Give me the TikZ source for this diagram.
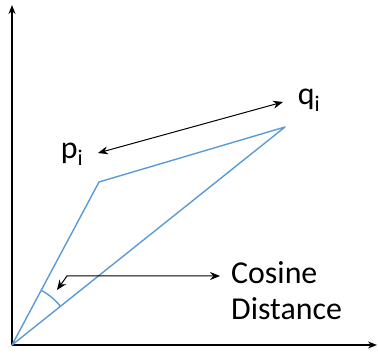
\documentclass[tikz,border=0pt]{standalone}
\usepackage{fontspec}
\setmainfont{Carlito}
\usetikzlibrary{arrows.meta}
\definecolor{vecblue}{RGB}{91,155,213}
\begin{document}
\begin{tikzpicture}[x=1bp,y=1bp]
	\tikzset{axis/.style={black, line width=1.4bp, -{Stealth[length=9bp,width=7bp]}},
		vec/.style={vecblue, line width=1.4bp},
		pointer/.style={black, line width=1bp, {Stealth[length=10bp,width=8bp]}-{Stealth[length=10bp,width=8bp]}},
		lbl/.style={font=\fontsize{32}{36}\selectfont, inner sep=0pt}}
	\useasboundingbox (0,0) rectangle (378,354);
	% axes
	\coordinate (O) at (12,9);
	\coordinate (ytip) at (12,349);
	\coordinate (xtip) at (377,9);
	\draw [axis] (O) -- (ytip);
	\draw [axis] (O) -- (xtip);
	% vectors
	\coordinate (P) at (99,172);
	\coordinate (Q) at (285,227);
	\draw [vec, line join=round] (O) -- (P) -- (Q) -- cycle;
	\draw [vec] ([shift={(38.6:62)}]O) arc (38.6:61.5:62);
	% labels
	\node [lbl] (pi) at (72,200) {p\textsubscript{i}};
	\node [lbl] (qi) at (309,254) {q\textsubscript{i}};
	\node [lbl, anchor=west, align=left] (cos) at (231,63) {Cosine\\Distance};
	% pointers
	\coordinate (a1) at (98,201);
	\coordinate (a2) at (283,252);
	\draw [pointer] (a1) -- (a2);
	\coordinate (c1) at (57,64);
	\coordinate (c2) at (67,78);
	\coordinate (c3) at (220,78);
	\draw [pointer] (c1) -- (c2) -- (c3);
\end{tikzpicture}
\end{document}
